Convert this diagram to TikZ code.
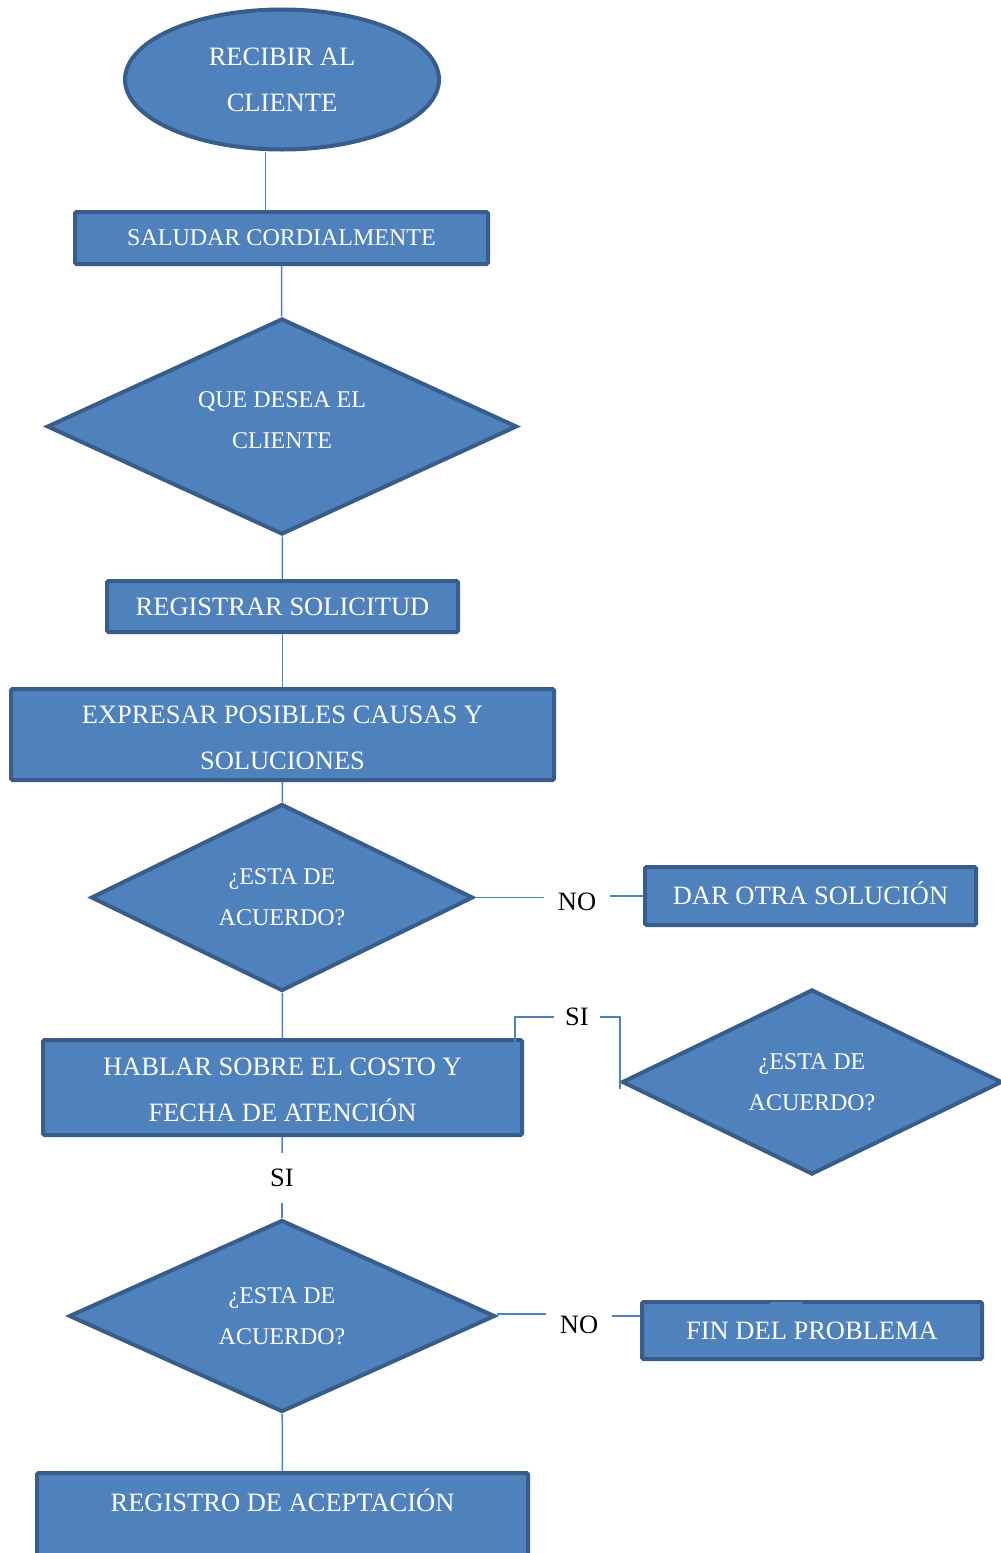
\documentclass[tikz,border=0pt]{standalone}
\usepackage{fontspec}
\setmainfont{Liberation Serif}
\usetikzlibrary{shapes.geometric,positioning}
\definecolor{boxfill}{RGB}{79,129,189}
\definecolor{boxline}{RGB}{56,93,138}
\definecolor{linkblue}{RGB}{79,129,189}
\tikzset{
startend/.style={ellipse, draw=boxline, fill=boxfill, line width=4pt, text=white, inner sep=0pt, font=\fontsize{26.5}{46}\selectfont, align=center}, % start of the flow
procbox/.style={rectangle, draw=boxline, fill=boxfill, line width=4pt, rounded corners=1.5pt, text=white, inner sep=0pt, font=\fontsize{26.5}{46}\selectfont, align=center},
decision/.style={diamond, aspect=2.2, draw=boxline, fill=boxfill, line width=4pt, text=white, inner sep=0pt, font=\fontsize{24}{41}\selectfont, align=center},
link/.style={draw=linkblue, line width=1.5pt}, % connectors
lbl/.style={font=\fontsize{26.5}{30}\selectfont, inner sep=0pt},
}

\begin{document}
\begin{tikzpicture}[x=1pt,y=1pt,yscale=-1]
\useasboundingbox (0,0) rectangle (1001,1553);
\clip (0,0) rectangle (1001,1553);
\fill[white] (0,0) rectangle (1001,1553);
%Main column
\node[startend, minimum width=314pt, minimum height=140pt] (recibir) at (282,79.5) {RECIBIR AL\\CLIENTE};
\node[procbox, minimum width=413pt, minimum height=52pt, font=\fontsize{24}{41}\selectfont] (saludar) at (281.5,238) {SALUDAR CORDIALMENTE};
\node[decision, minimum width=470pt, minimum height=216pt] (q1) at (282,426.5) {QUE DESEA EL\\CLIENTE\\[-29pt]\mbox{}};
\node[procbox, minimum width=351pt, minimum height=51pt] (registrar) at (282.5,606.5) {REGISTRAR SOLICITUD};
\node[procbox, minimum width=543pt, minimum height=91pt] (expresar) at (282.5,734.5) {\rule{0pt}{24pt}EXPRESAR POSIBLES CAUSAS Y\\SOLUCIONES};
\node[decision, minimum width=382pt, minimum height=187pt] (q2) at (282,897.5) {¿ESTA DE\\ACUERDO?};
\node[procbox, minimum width=479pt, minimum height=95pt] (hablar) at (282.5,1087.5) {\rule{0pt}{23pt}HABLAR SOBRE EL COSTO Y\\FECHA DE ATENCIÓN};
\node[lbl, inner ysep=16pt] (si2) at (282,1178) {SI};
\node[decision, minimum width=426pt, minimum height=192pt] (q4) at (282,1316) {¿ESTA DE\\ACUERDO?};
\node[procbox, minimum width=491pt, minimum height=106pt] (registro) at (282.5,1526) {REGISTRO DE ACEPTACIÓN\\[5pt]\mbox{}};
%Right column
\node[lbl, inner xsep=14pt] (no1) at (577,902) {NO};
\node[procbox, minimum width=331pt, minimum height=58pt, text height=17.5pt, text depth=0pt] (dar) at (810.5,896) {DAR OTRA SOLUCIÓN};
\node[lbl, inner xsep=11pt] (si1) at (577,1017) {SI};
\node[decision, minimum width=380pt, minimum height=185pt] (q3) at (812,1082) {¿ESTA DE\\ACUERDO?};
\node[lbl, inner xsep=14pt] (no2) at (579,1325) {NO};
\node[procbox, minimum width=340pt, minimum height=57pt] (fin) at (812,1330.5) {FIN DEL PROBLEMA};
%Connectors
\draw[link] ([xshift=-16pt]saludar.north) -- ([xshift=-16pt]saludar.north |- recibir.south);
\draw[link] (saludar) -- (q1);
\draw[link] (q1) -- (registrar);
\draw[link] (registrar) -- (expresar);
\draw[link] (expresar) -- (q2);
\draw[link] (q2.east) -- (no1.west |- q2.east);
\draw[link] (no1.east |- dar.west) -- (dar.west);
\draw[link] (q2) -- (hablar);
\draw[link] ([xshift=-9pt,yshift=7pt]hablar.north east) |- (si1.west);
\draw[link] (si1.east) -| ([xshift=0pt,yshift=7pt]q3.west);
\draw[link] (hablar) -- (si2);
\draw[link] (si2) -- (q4);
\draw[link] ([yshift=-2pt]q4.east) -- ([yshift=-2pt]q4.east -| no2.west);
\draw[link] (no2.east |- q4.east) -- (q4.east -| fin.west);
\draw[link, line width=2pt] ([xshift=-42pt,yshift=3pt]fin.north) -- ([xshift=-10pt,yshift=3pt]fin.north);
\draw[link] (q4) -- (registro);
\end{tikzpicture}
\end{document}
